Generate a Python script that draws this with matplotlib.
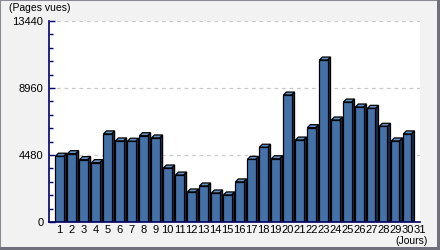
import matplotlib
matplotlib.use("Agg")
import matplotlib.pyplot as plt
from matplotlib import font_manager
from matplotlib.patches import Polygon, Rectangle
from matplotlib.ticker import MultipleLocator

# data
days = list(range(1, 32))
day_labels = [str(d) for d in days]
pages_vues = [4400, 4570, 4170, 3970, 5890, 5420, 5400, 5770, 5620, 3610,
              3140, 2010, 2410, 1940, 1810, 2680, 4190, 5000, 4230, 8490,
              5480, 6310, 10830, 6820, 8020, 7690, 7600, 6400, 5420, 5890, 0]
y_ticks = [0, 4480, 8960, 13440]

# narrow font if one is there, else Liberation Sans
installed = {f.name for f in font_manager.fontManager.ttflist}
font = "Liberation Sans"
for name in ["Liberation Sans Narrow", "DejaVu Sans Condensed"]:
    if name in installed:
        font = name
        break
plt.rcParams["font.family"] = [font, "DejaVu Sans"]
fsize = 9 if "Narrow" in font or "Condensed" in font else 8

front_col = "#4571a9"
top_col = "#6590c6"
side_col = "#1d3050"
navy = "#000066"

fig = plt.figure(figsize=(4.4, 2.5), dpi=100, facecolor="#f2f2f2")
ax = fig.add_axes([49 / 440, 28 / 250, 371 / 440, 201 / 250])
ax.set_facecolor("white")

width = 0.68
dx = 0.25   # depth of the 3d effect, x units
dy = 200    # depth of the 3d effect, y units

ax.bar(days, pages_vues, width=width, color=front_col, edgecolor="black",
       linewidth=0.9, zorder=3)
for d, v in zip(days, pages_vues):
    if v <= 0:
        continue
    r = d + width / 2
    l = d - width / 2
    side = Polygon([(r, 0), (r + dx, dy * 0.3), (r + dx, v + dy), (r, v)],
                   closed=True, facecolor=side_col, edgecolor="black",
                   linewidth=0.9, zorder=2)
    top = Polygon([(l, v), (r, v), (r + dx, v + dy), (l + dx, v + dy)],
                  closed=True, facecolor=top_col, edgecolor="black",
                  linewidth=0.9, zorder=2)
    ax.add_patch(side)
    ax.add_patch(top)

ax.set_xlim(0.12, 31.05)
ax.set_ylim(0, 13440)
ax.set_xticks(days)
ax.set_xticklabels(day_labels)
ax.set_yticks(y_ticks)
ax.yaxis.set_minor_locator(MultipleLocator(896))

ax.tick_params(axis="x", length=0, pad=2.5, labelsize=fsize, colors="black")
ax.tick_params(axis="y", which="both", direction="in", length=3, width=1,
               color=navy, pad=4, labelsize=fsize)
ax.tick_params(axis="y", which="major", length=4)

ax.grid(axis="y", which="major", color="#c8c8c8", linestyle=(0, (3, 3)),
        linewidth=0.9, zorder=0)
ax.set_axisbelow(True)

for s in ["top", "right"]:
    ax.spines[s].set_visible(False)
for s in ["left", "bottom"]:
    ax.spines[s].set_color(navy)
    ax.spines[s].set_linewidth(1.2)
    ax.spines[s].set_zorder(4)

fig.text(9 / 440, 1 - 8 / 250, "(Pages vues)", fontsize=fsize - 0.5,
         va="center", ha="left")
fig.text(428 / 440, 1 - 241 / 250, "(Jours)", fontsize=fsize - 0.5,
         va="center", ha="right")

# frame round the picture: thin on left/top, thicker on right/bottom
fig.patches.append(Rectangle((0, 0), 1, 1, transform=fig.transFigure,
                             fill=False, edgecolor="#8a8a94", linewidth=1.5))
fig.patches.append(Rectangle((0, 0), 1, 3 / 250, transform=fig.transFigure,
                             facecolor="#70707c", edgecolor="none"))
fig.patches.append(Rectangle((1 - 3 / 440, 0), 3 / 440, 1,
                             transform=fig.transFigure,
                             facecolor="#70707c", edgecolor="none"))

fig.savefig("out.png", dpi=100, facecolor=fig.get_facecolor())
